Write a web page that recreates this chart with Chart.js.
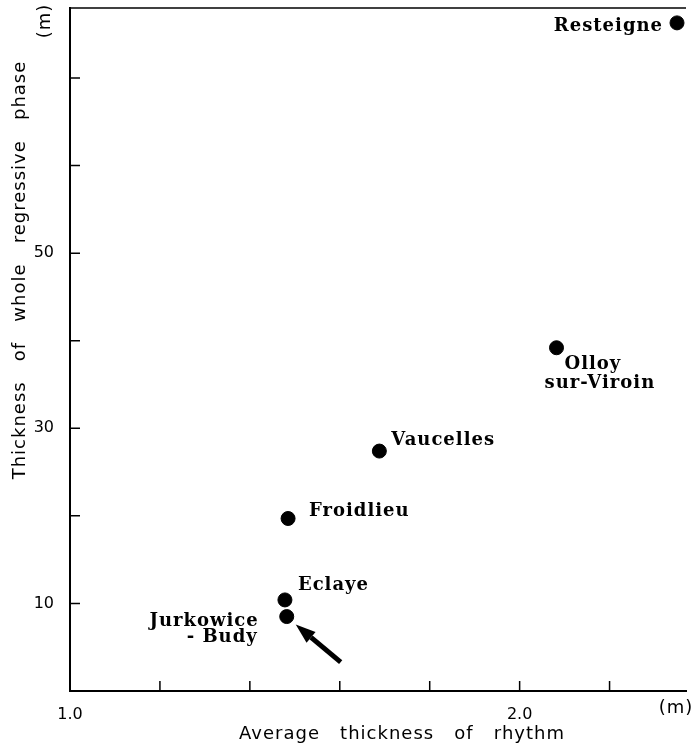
<!DOCTYPE html>
<html>
<head>
<meta charset="utf-8">
<script src="https://cdn.jsdelivr.net/npm/chart.js@4.4.1/dist/chart.umd.min.js"></script>
<style>
  html, body { margin: 0; background: #fff; }
</style>
</head>
<body>
<canvas id="chart" width="694" height="745"></canvas>
<script>
// sites and values
const sites = ["Resteigne", "Olloy\nsur-Viroin", "Vaucelles", "Froidlieu", "Eclaye", "Jurkowice\n- Budy"];
const rhythm = [2.35, 2.082, 1.688, 1.485, 1.478, 1.482];   // average thickness of rhythm (m)
const phase = [76.3, 39.2, 27.4, 19.7, 10.4, 8.5];           // thickness of whole regressive phase (m)
const xTickLabels = [1.0, 2.0];
const yTickLabels = [10, 30, 50];
const arrowTail = [1.602, 3.3];
const arrowHead = [1.502, 7.6];

// label placement, relative to the dot (px), one entry per line
const labelPlace = {
  "Resteigne": [{ dx: -14, dy: 3, align: "right" }],
  "Olloy\nsur-Viroin": [{ dx: 8, dy: 17, align: "left" }, { dx: -12, dy: 36, align: "left" }],
  "Vaucelles": [{ dx: 12, dy: -11, align: "left" }],
  "Froidlieu": [{ dx: 21, dy: -7, align: "left" }],
  "Eclaye": [{ dx: 13, dy: -15, align: "left" }],
  "Jurkowice\n- Budy": [{ dx: -28, dy: 5, align: "right" }, { dx: -29, dy: 21, align: "right" }]
};

const axisFont = '"DejaVu Sans", sans-serif';
const labelFont = 'bold 18px "DejaVu Serif", serif';

const onStep = (v, step) => Math.abs(v / step - Math.round(v / step)) < 1e-6;

const decor = {
  id: "decor",
  afterDraw(chart) {
    const { ctx, chartArea: a, scales: { x, y } } = chart;
    ctx.save();
    ctx.strokeStyle = "#000";
    ctx.fillStyle = "#000";

    // top frame line
    ctx.lineWidth = 1.5;
    ctx.beginPath();
    ctx.moveTo(a.left, a.top);
    ctx.lineTo(a.right, a.top);
    ctx.stroke();

    // inward ticks
    ctx.lineWidth = 1.5;
    ctx.beginPath();
    x.ticks.forEach(t => {
      const px = x.getPixelForValue(t.value);
      if (px <= a.left + 2 || !onStep(t.value, 0.2)) return;
      ctx.moveTo(px, a.bottom);
      ctx.lineTo(px, a.bottom - 10);
    });
    y.ticks.forEach(t => {
      const py = y.getPixelForValue(t.value);
      if (py >= a.bottom - 2 || !onStep(t.value, 10)) return;
      ctx.moveTo(a.left, py);
      ctx.lineTo(a.left + 10, py);
    });
    ctx.stroke();

    // arrow
    const tx = x.getPixelForValue(arrowTail[0]), ty = y.getPixelForValue(arrowTail[1]);
    const hx = x.getPixelForValue(arrowHead[0]), hy = y.getPixelForValue(arrowHead[1]);
    const ang = Math.atan2(hy - ty, hx - tx);
    const len = 20, half = 7;
    const bx = hx - len * Math.cos(ang), by = hy - len * Math.sin(ang);
    ctx.lineWidth = 5;
    ctx.beginPath();
    ctx.moveTo(tx, ty);
    ctx.lineTo(bx, by);
    ctx.stroke();
    ctx.beginPath();
    ctx.moveTo(hx, hy);
    ctx.lineTo(bx + half * Math.sin(ang), by - half * Math.cos(ang));
    ctx.lineTo(bx - half * Math.sin(ang), by + half * Math.cos(ang));
    ctx.closePath();
    ctx.fill();

    // site labels
    ctx.font = labelFont;
    ctx.letterSpacing = "1px";
    ctx.textBaseline = "middle";
    sites.forEach((name, i) => {
      const px = x.getPixelForValue(rhythm[i]);
      const py = y.getPixelForValue(phase[i]);
      name.split("\n").forEach((line, j) => {
        const p = labelPlace[name][j];
        ctx.textAlign = p.align;
        ctx.fillText(line, px + p.dx, py + p.dy);
      });
    });

    // axis titles
    ctx.font = "18px " + axisFont;
    ctx.letterSpacing = "1px";
    ctx.textAlign = "center";
    ctx.fillText("Average   thickness   of   rhythm", 402, 734);
    ctx.fillText("(m)", 676, 708);
    ctx.save();
    ctx.translate(20, 270);
    ctx.rotate(-Math.PI / 2);
    ctx.fillText("Thickness   of   whole   regressive   phase", 0, 0);
    ctx.restore();
    ctx.save();
    ctx.translate(45, 21);
    ctx.rotate(-Math.PI / 2);
    ctx.fillText("(m)", 0, 0);
    ctx.restore();

    ctx.restore();
  }
};

new Chart(document.getElementById("chart"), {
  type: "scatter",
  data: {
    datasets: [{
      data: rhythm.map((v, i) => ({ x: v, y: phase[i] })),
      backgroundColor: "#000",
      borderColor: "#000",
      pointRadius: 7,
      pointHoverRadius: 7
    }]
  },
  options: {
    responsive: false,
    animation: false,
    layout: { padding: { top: 7, right: 4, left: 0, bottom: 0 } },
    plugins: { legend: { display: false }, tooltip: { enabled: false } },
    scales: {
      x: {
        type: "linear",
        min: 1.0,
        max: 2.37,
        grid: { display: false },
        border: { display: true, color: "#000", width: 2 },
        afterFit(s) { s.height = 54; s.paddingLeft = 0; s.paddingRight = 0; },
        ticks: {
          stepSize: 0.2,
          color: "#000",
          font: { family: axisFont, size: 16 },
          padding: 6,
          maxRotation: 0,
          autoSkip: false,
          callback: v => xTickLabels.some(t => Math.abs(t - v) < 1e-6) ? v.toFixed(1) : ""
        }
      },
      y: {
        type: "linear",
        min: 0,
        max: 78,
        grid: { display: false },
        border: { display: true, color: "#000", width: 2 },
        afterFit(s) { s.width = 70; s.paddingTop = 0; s.paddingBottom = 0; },
        ticks: {
          stepSize: 10,
          color: "#000",
          font: { family: axisFont, size: 16 },
          padding: 8,
          autoSkip: false,
          callback: v => yTickLabels.includes(v) ? String(v) : ""
        }
      }
    }
  },
  plugins: [decor]
});
</script>
</body>
</html>
